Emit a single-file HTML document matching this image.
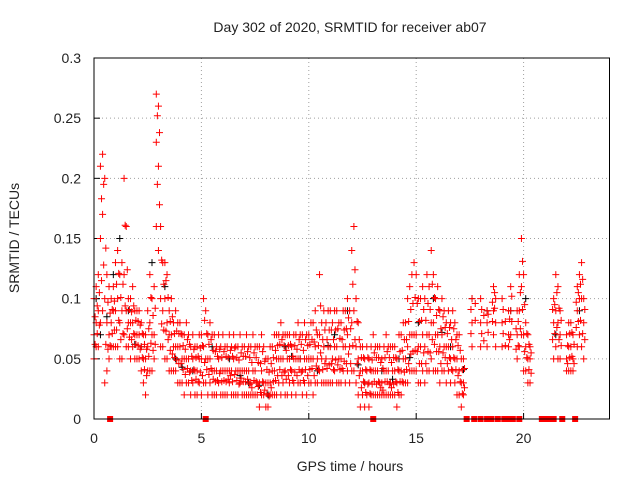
<!DOCTYPE html>
<html><head><meta charset="utf-8"><style>
html,body{margin:0;padding:0;background:#fff;}
svg{display:block;font-family:"Liberation Sans",sans-serif;}
</style></head><body>
<svg id="chart" width="640" height="480" viewBox="0 0 640 480">
<rect width="640" height="480" fill="#fff"/>
<text x="350" y="32" font-size="14" text-anchor="middle" fill="#222">Day 302 of 2020, SRMTID for receiver ab07</text>
<g id="grid"></g>
<g id="ticks"></g>
<g id="marks"></g>
<rect x="94" y="58" width="515.5" height="361" fill="none" stroke="#000" stroke-width="1"/>
<text x="350" y="471" font-size="14" text-anchor="middle" fill="#222">GPS time / hours</text>
<text transform="translate(19,238) rotate(-90)" font-size="14" text-anchor="middle" fill="#222">SRMTID / TECUs</text>
</svg>
<script>
const xTicks=[0,5,10,15,20];
const yTicks=[0,0.05,0.1,0.15,0.2,0.25,0.3];
const yTickLabels=["0","0.05","0.1","0.15","0.2","0.25","0.3"];
const sampleStart=0, sampleStep=0.1, offsetStart=0.05;
const hiVals=[.10,.11,.12,.21,.22,.20,.12,.11,.10,.11,
.13,.14,.12,.13,.20,.16,.10,.10,.11,.09,
.09,.09,.08,.07,.07,.09,.12,.10,.11,.27,
.26,.16,.13,.13,.12,.09,.10,.08,.09,.08,
.08,.07,.07,.08,.07,.06,.07,.06,.06,.07,
.07,.10,.09,.07,.08,.07,.07,.06,.07,.06,
.07,.06,.06,.07,.06,.07,.06,.06,.07,.06,
.06,.07,.06,.06,.07,.06,.06,.06,.07,.06,
.05,.05,.06,.06,.07,.07,.07,.08,.07,.07,
.07,.07,.06,.07,.07,.08,.07,.07,.08,.07,
.07,.08,.08,.09,.07,.12,.08,.09,.08,.09,
.09,.08,.09,.09,.08,.08,.09,.09,.10,.09,
.14,.16,.10,.08,.06,.06,.05,.06,.05,.06,
.07,.06,.06,.06,.05,.06,.07,.06,.06,.06,
.06,.05,.07,.07,.08,.08,.10,.11,.12,.13,
.12,.10,.10,.11,.10,.12,.11,.14,.12,.10,
.11,.09,.10,.09,.08,.09,.08,.09,.08,.07,
.07,.05,.05,null,null,null,.10,null,null,null,
.10,null,null,.09,null,null,.11,.10,null,null,
.10,null,null,.09,.11,null,null,.09,.12,.15,
.12,.08,.07,.06,null,null,null,null,null,null,
null,null,null,null,.10,.12,.11,.09,null,null,
.07,.08,.08,.07,null,.11,.12,.13,.10,null];
const midVals=[.07,.08,.09,.15,.17,.10,.08,.07,.08,.09,
.09,.10,.08,.09,.12,.09,.08,.08,.08,.07,
.07,.07,.06,.05,.05,.06,.08,.07,.07,.23,
.21,.10,.09,.10,.08,.07,.07,.06,.06,.06,
.06,.05,.05,.05,.05,.04,.05,.04,.04,.05,
.05,.06,.05,.05,.05,.04,.04,.04,.05,.04,
.04,.04,.04,.04,.04,.05,.04,.04,.04,.04,
.04,.04,.04,.03,.04,.04,.03,.03,.04,.03,
.03,.03,.03,.04,.04,.05,.05,.05,.05,.04,
.05,.05,.04,.05,.05,.05,.05,.04,.05,.05,
.05,.05,.05,.06,.05,.07,.05,.06,.05,.06,
.06,.05,.06,.06,.05,.05,.06,.06,.07,.06,
.08,.09,.06,.05,.04,.04,.03,.04,.03,.04,
.04,.04,.04,.03,.03,.04,.04,.04,.03,.04,
.04,.03,.04,.04,.05,.05,.06,.07,.07,.07,
.07,.06,.06,.07,.06,.07,.07,.08,.08,.07,
.07,.06,.07,.06,.06,.06,.05,.06,.05,.05,
.04,.03,.03,null,null,null,.08,null,null,null,
.08,null,null,.08,null,null,.09,.08,null,null,
.08,null,null,.07,.09,null,null,.07,.09,.11,
.07,.06,.05,.05,null,null,null,null,null,null,
null,null,null,null,.08,.09,.08,.07,null,null,
.05,.06,.06,.05,null,.09,.10,.10,.08,null];
const loVals=[.05,.06,.06,.08,.09,.03,.04,.05,.06,.06,
.06,.06,.05,.05,.07,.06,.06,.05,.06,.05,
.05,.05,.04,.03,.02,.04,.04,.04,.05,.16,
.14,.06,.06,.05,.05,.04,.04,.04,.04,.03,
.03,.03,.02,.03,.03,.02,.03,.02,.02,.03,
.02,.03,.03,.02,.03,.02,.02,.02,.03,.02,
.02,.02,.02,.03,.02,.02,.02,.02,.03,.02,
.02,.02,.02,.02,.02,.02,.02,.01,.02,.02,
.01,.01,.02,.02,.02,.02,.03,.02,.03,.02,
.02,.03,.02,.03,.02,.03,.03,.02,.03,.02,
.03,.03,.02,.03,.03,.04,.03,.03,.03,.03,
.03,.03,.04,.03,.03,.03,.04,.03,.04,.03,
.04,.04,.03,.02,.01,.02,.01,.02,.01,.02,
.02,.02,.02,.02,.02,.02,.02,.02,.02,.02,
.02,.01,.02,.02,.03,.03,.03,.04,.04,.04,
.04,.03,.03,.04,.03,.04,.04,.05,.04,.04,
.04,.03,.04,.04,.03,.04,.03,.04,.03,.02,
.02,.01,.02,null,null,null,.06,null,null,null,
.06,null,null,.06,null,null,.07,.06,null,null,
.06,null,null,.06,.07,null,null,.05,.06,.07,
.04,.04,.03,.03,null,null,null,null,null,null,
null,null,null,null,.05,.06,.05,.05,null,null,
.04,.04,.04,.04,null,.06,.07,.06,.05,null];
const q1Vals=[.062,.071,.078,.115,.128,.062,.058,.061,.071,.074,
.074,.082,.066,.071,.094,.075,.068,.066,.071,.062,
.061,.058,.051,.041,.036,.052,.063,.057,.062,.195,
.178,.079,.074,.073,.066,.057,.054,.051,.049,.046,
.046,.041,.037,.042,.039,.032,.041,.033,.031,.039,
.036,.047,.041,.037,.042,.033,.031,.032,.038,.031,
.032,.031,.033,.036,.031,.037,.032,.029,.034,.031,
.031,.033,.029,.026,.032,.031,.027,.022,.031,.024,
.021,.019,.026,.031,.032,.036,.041,.036,.039,.033,
.036,.041,.032,.039,.036,.041,.039,.032,.041,.036,
.041,.042,.036,.044,.041,.055,.041,.046,.042,.045,
.046,.041,.049,.045,.041,.042,.048,.046,.054,.046,
.061,.066,.046,.036,.026,.031,.022,.029,.021,.029,
.031,.029,.031,.026,.024,.031,.031,.029,.026,.029,
.031,.022,.031,.031,.039,.041,.046,.054,.056,.057,
.056,.046,.046,.055,.046,.056,.055,.066,.062,.056,
.056,.046,.055,.051,.046,.051,.041,.051,.041,.036,
.031,.021,.026,null,null,.071,null,.082,null,null,
.071,.065,null,.072,null,.081,.092,null,null,null,
.071,.061,null,.066,.081,null,.058,.061,.075,.091,
.056,.051,.041,.038,null,null,null,null,null,null,
null,null,null,.066,.071,.076,.066,.061,null,null,
.046,.051,.052,.046,.076,.081,.082,.071,.066,null];
const q3Vals=[.085,.094,.105,.183,.195,.142,.097,.088,.091,.098,
.112,.121,.101,.112,.161,.124,.091,.089,.094,.082,
.081,.078,.071,.062,.058,.075,.101,.086,.092,.252,
.238,.132,.112,.115,.101,.081,.085,.071,.073,.071,
.071,.061,.058,.066,.062,.052,.058,.051,.052,.059,
.061,.082,.071,.062,.066,.057,.056,.052,.058,.051,
.056,.052,.051,.057,.052,.059,.051,.049,.055,.052,
.052,.056,.051,.047,.055,.051,.047,.046,.056,.048,
.041,.039,.046,.051,.057,.061,.062,.066,.061,.057,
.061,.062,.052,.061,.058,.066,.062,.057,.066,.061,
.062,.066,.064,.074,.061,.094,.066,.074,.066,.074,
.074,.066,.074,.075,.067,.066,.074,.075,.084,.075,
.112,.124,.081,.066,.051,.051,.041,.051,.041,.049,
.055,.051,.051,.047,.042,.051,.056,.051,.047,.051,
.051,.041,.056,.057,.066,.066,.081,.091,.096,.101,
.096,.081,.082,.091,.082,.096,.091,.112,.101,.086,
.091,.075,.085,.076,.071,.076,.066,.075,.066,.061,
.057,.041,.042,null,null,.091,null,.096,null,null,
.091,.086,null,.087,null,.097,.105,null,null,null,
.091,.081,null,.083,.102,null,.075,.081,.105,.131,
.095,.071,.062,.055,null,null,null,null,null,null,
null,null,null,.091,.095,.105,.092,.082,null,null,
.061,.071,.072,.062,.097,.105,.112,.116,.091,null];
const blackTimes=[0.1,0.3,0.9,1.2,1.6,2.2,2.7,3.3,3.8,4.6,5.5,6.3,7.2,8.1,8.9,9.6,10.4,11.2,11.8,12.6,13.4,14.2,15.1,15.8,16.6,17.6,18.3,19.4,20.1,21.5,22.6,0.6,1.9,4.1,6.8,7.7,9.2,10.9,12.3,13.9,14.7,16.2,17.2];
const blackVals=[0.10,0.07,0.12,0.15,0.09,0.06,0.13,0.11,0.05,0.04,0.06,0.05,0.03,0.02,0.06,0.05,0.04,0.07,0.09,0.03,0.04,0.05,0.08,0.10,0.06,0.10,0.09,0.09,0.10,0.07,0.09,0.085,0.062,0.043,0.036,0.028,0.052,0.061,0.045,0.033,0.051,0.072,0.041];
const flagTimes=[0.75,5.2,13.0,17.35,17.7,18.0,18.3,18.5,18.8,19.1,19.3,19.5,19.8,20.85,21.0,21.2,21.4,21.8,22.4];

const X0=94,X1=609.5,Y0=419,Y1=58,XMAX=24,YMAX=0.3;
const xs=t=>X0+(X1-X0)*t/XMAX;
const ys=v=>Y0-(Y0-Y1)*v/YMAX;
const NS="http://www.w3.org/2000/svg";
const grid=document.getElementById('grid'),ticks=document.getElementById('ticks'),marks=document.getElementById('marks');
function mk(tag,attrs,parent){const e=document.createElementNS(NS,tag);for(const k in attrs)e.setAttribute(k,attrs[k]);parent.appendChild(e);return e;}
xTicks.forEach(t=>{
  const x=xs(t);
  if(t>0){const g=mk('line',{x1:x,x2:x,y1:Y0,y2:Y1,stroke:'#a0a0a0','stroke-dasharray':'1,3'},grid);
  
  }
  const tk=mk('line',{x1:x,x2:x,y1:Y0,y2:Y0-6,stroke:'#000'},ticks);
  
  
  const lb=mk('text',{x:x,y:443,'font-size':14,'text-anchor':'middle',fill:'#222'},ticks);lb.textContent=t;
  
  
});
yTicks.forEach((v,i)=>{
  const y=ys(v);
  if(v>0){const g=mk('line',{x1:X0,x2:X1,y1:y,y2:y,stroke:'#a0a0a0','stroke-dasharray':'1,3'},grid);
  
  }
  const tk=mk('line',{x1:X0,x2:X0+6,y1:y,y2:y,stroke:'#000'},ticks);
  
  
  const lb=mk('text',{x:81,y:y+5,'font-size':14,'text-anchor':'end',fill:'#222'},ticks);lb.textContent=yTickLabels[i];
  
  
});
function plus(t,v,color,name){
  const x=xs(t),y=ys(v);
  const p=mk('path',{d:`M${x-3.5} ${y}H${x+3.5}M${x} ${y-3.5}V${y+3.5}`,stroke:color,'stroke-width':1,fill:'none'},marks);
  
  
}
blackTimes.forEach((t,i)=>plus(t,blackVals[i],'#000','black-point'));
[loVals,midVals,hiVals].forEach(arr=>arr.forEach((v,i)=>{if(v!==null)plus(sampleStart+i*sampleStep,v,'#f00','red-point');}));
[q1Vals,q3Vals].forEach(arr=>arr.forEach((v,i)=>{if(v!==null)plus(offsetStart+i*sampleStep,v,'#f00','red-point');}));
flagTimes.forEach(t=>{
  const r=mk('rect',{x:xs(t)-3,y:Y0-3,width:6,height:6,fill:'#f00'},marks);
  
  
});
</script>
</body></html>
